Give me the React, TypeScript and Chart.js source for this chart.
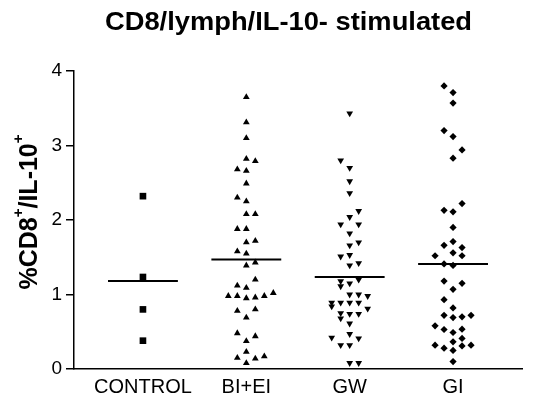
import { useEffect, useRef } from "react";
import { Chart, registerables } from "chart.js";

Chart.register(...registerables);

const TITLE = "CD8/lymph/IL-10- stimulated";
const categories = ["CONTROL", "BI+EI", "GW", "GI"];
const yTicks = [0, 1, 2, 3, 4];

const controlValues = [2.32, 1.235, 0.8, 0.38];
const controlColumns = [0, 0, 0, 0];

const bieiValues = [
  3.65, 3.31, 3.1, 2.82, 2.79, 2.68, 2.66, 2.49, 2.3, 2.25, 2.08, 2.08, 1.88, 1.88,
  1.72, 1.7, 1.58, 1.55, 1.43, 1.39, 1.2, 1.12, 1.09, 1.02, 0.98, 0.98, 0.98, 0.96,
  0.95, 0.8, 0.78, 0.69, 0.48, 0.44, 0.375, 0.23, 0.17, 0.15, 0.14, 0.08,
];
const bieiColumns = [
  0, 0, 0, 0, 1, -1, 0, 0, -1, 0, 0, 1, -1, 0,
  1, 0, -1, 0, 1, 0, 1, -1, 0, 3, -2, -1, 2, 1,
  0, 1, -1, 0, -1, 1, 0, 0, 2, -1, 1, 0,
];

const gwValues = [
  3.43, 2.8, 2.7, 2.52, 2.36, 2.12, 2.04, 1.94, 1.94, 1.82, 1.7, 1.66, 1.53, 1.51,
  1.42, 1.39, 1.2, 1.18, 1.15, 1.11, 1.0, 1.0, 0.98, 0.89, 0.89, 0.89, 0.89, 0.84,
  0.81, 0.75, 0.74, 0.74, 0.68, 0.61, 0.47, 0.42, 0.41, 0.32, 0.32, 0.08, 0.08,
];
const gwColumns = [
  0, -1, 0, 0, 0, 1, 0, -1, 1, 0, 1, 0, 0, -1,
  1, 0, 1, -1, 0, -1, 0, 1, 2, -2, -1, 0, 1, -2,
  2, -1, 0, 1, -1, 0, 0, -2, 1, -1, 0, 0, 1,
];

const giValues = [
  3.8, 3.71, 3.57, 3.2, 3.12, 2.94, 2.83, 2.22, 2.13, 2.11, 1.9, 1.71, 1.66, 1.63,
  1.56, 1.52, 1.52, 1.41, 1.39, 1.18, 1.15, 1.07, 0.93, 0.82, 0.72, 0.69, 0.7, 0.72,
  0.58, 0.53, 0.535, 0.49, 0.41, 0.365, 0.32, 0.28, 0.31, 0.32, 0.25, 0.1,
];
const giColumns = [
  -1, 0, 0, -1, 0, 1, 0, 1, -1, 0, 0, 0, -1, 1,
  0, -2, 1, -1, 0, -1, 1, 0, -1, 0, -1, 0, 1, 2,
  -2, -1, 1, 0, 1, 0, -2, -1, 1, 2, 0, 0,
];

const groupMeans = [1.18, 1.47, 1.235, 1.41];

const COLUMN_STEP = 0.087;
const MEAN_HALF = 0.338;

function toPoints(groupIndex: number, values: number[], columns: number[]) {
  return values.map((v, i) => ({ x: groupIndex + columns[i] * COLUMN_STEP, y: v }));
}

const FONT = "'Liberation Sans', Arial, Helvetica, sans-serif";

const customTitles = {
  id: "customTitles",
  afterDraw(chart: any) {
    const ctx: CanvasRenderingContext2D = chart.ctx;
    ctx.save();
    ctx.fillStyle = "#000";
    ctx.font = `bold 25px ${FONT}`;
    ctx.textAlign = "center";
    ctx.textBaseline = "alphabetic";
    const w = ctx.measureText(TITLE).width;
    ctx.translate(280.5, 21.5);
    ctx.scale(367 / w, 1);
    ctx.fillText(TITLE, 0, 0);
    ctx.restore();

    // y-axis title with superscripts
    const pieces = [
      { t: "%CD8", sup: false },
      { t: "+", sup: true },
      { t: "/IL-10", sup: false },
      { t: "+", sup: true },
    ];
    const mainFont = `bold 25px ${FONT}`;
    const supFont = `bold 15px ${FONT}`;
    ctx.save();
    ctx.fillStyle = "#000";
    ctx.textAlign = "left";
    ctx.textBaseline = "alphabetic";
    let total = 0;
    const widths = pieces.map((p) => {
      ctx.font = p.sup ? supFont : mainFont;
      const pw = ctx.measureText(p.t).width;
      total += pw;
      return pw;
    });
    ctx.translate(29, 204);
    ctx.rotate(-Math.PI / 2);
    let x = -total / 2;
    pieces.forEach((p, i) => {
      ctx.font = p.sup ? supFont : mainFont;
      ctx.fillText(p.t, x, p.sup ? -14 : 0);
      x += widths[i];
    });
    ctx.restore();
  },
};

export default function App() {
  const ref = useRef<HTMLCanvasElement | null>(null);

  useEffect(() => {
    if (!ref.current) return;
    const black = "#000";
    const meanSets = groupMeans.map((m, i) => ({
      type: "line" as const,
      data: [
        { x: i - MEAN_HALF, y: m },
        { x: i + MEAN_HALF, y: m },
      ],
      borderColor: black,
      borderWidth: 2,
      pointRadius: 0,
      showLine: true,
      fill: false,
    }));

    const chart = new Chart(ref.current, {
      type: "scatter",
      data: {
        datasets: [
          {
            data: toPoints(0, controlValues, controlColumns),
            pointStyle: "rect",
            pointRadius: 4.7,
            backgroundColor: black,
            borderWidth: 0,
          },
          {
            data: toPoints(1, bieiValues, bieiColumns),
            pointStyle: "triangle",
            pointRadius: 3.9,
            backgroundColor: black,
            borderWidth: 0,
          },
          {
            data: toPoints(2, gwValues, gwColumns),
            pointStyle: "triangle",
            rotation: 180,
            pointRadius: 3.9,
            backgroundColor: black,
            borderWidth: 0,
          },
          {
            data: toPoints(3, giValues, giColumns),
            pointStyle: "rectRot",
            pointRadius: 3.6,
            backgroundColor: black,
            borderWidth: 0,
          },
          ...meanSets,
        ] as any,
      },
      options: {
        animation: false,
        responsive: true,
        maintainAspectRatio: false,
        layout: { padding: { top: 63, right: 9, left: 0, bottom: 0 } },
        plugins: {
          legend: { display: false },
          title: { display: false },
          tooltip: { enabled: false },
        },
        scales: {
          x: {
            type: "linear",
            min: -0.667,
            max: 3.667,
            afterBuildTicks: (scale: any) => {
              scale.ticks = categories.map((_, i) => ({ value: i }));
            },
            afterFit: (scale: any) => {
              scale.height = 27;
            },
            grid: { display: false, drawTicks: false },
            border: { display: true, color: black, width: 1.5 },
            ticks: {
              color: black,
              font: { family: FONT, size: 20 },
              padding: 6,
              maxRotation: 0,
              autoSkip: false,
              callback: (v: any) => categories[Math.round(Number(v))] ?? "",
            },
          },
          y: {
            type: "linear",
            min: 0,
            max: 4,
            afterBuildTicks: (scale: any) => {
              scale.ticks = yTicks.map((v) => ({ value: v }));
            },
            afterFit: (scale: any) => {
              scale.width = 66;
            },
            grid: {
              drawOnChartArea: false,
              drawTicks: true,
              tickLength: 8,
              color: black,
              lineWidth: 1.5,
            },
            border: { display: true, color: black, width: 1.5 },
            ticks: {
              color: black,
              font: { family: FONT, size: 19 },
              padding: 4,
            },
          },
        },
      },
      plugins: [customTitles],
    });
    return () => chart.destroy();
  }, []);

  return (
    <div style={{ position: "relative", width: 523, height: 388 }}>
      <canvas ref={ref} />
    </div>
  );
}
